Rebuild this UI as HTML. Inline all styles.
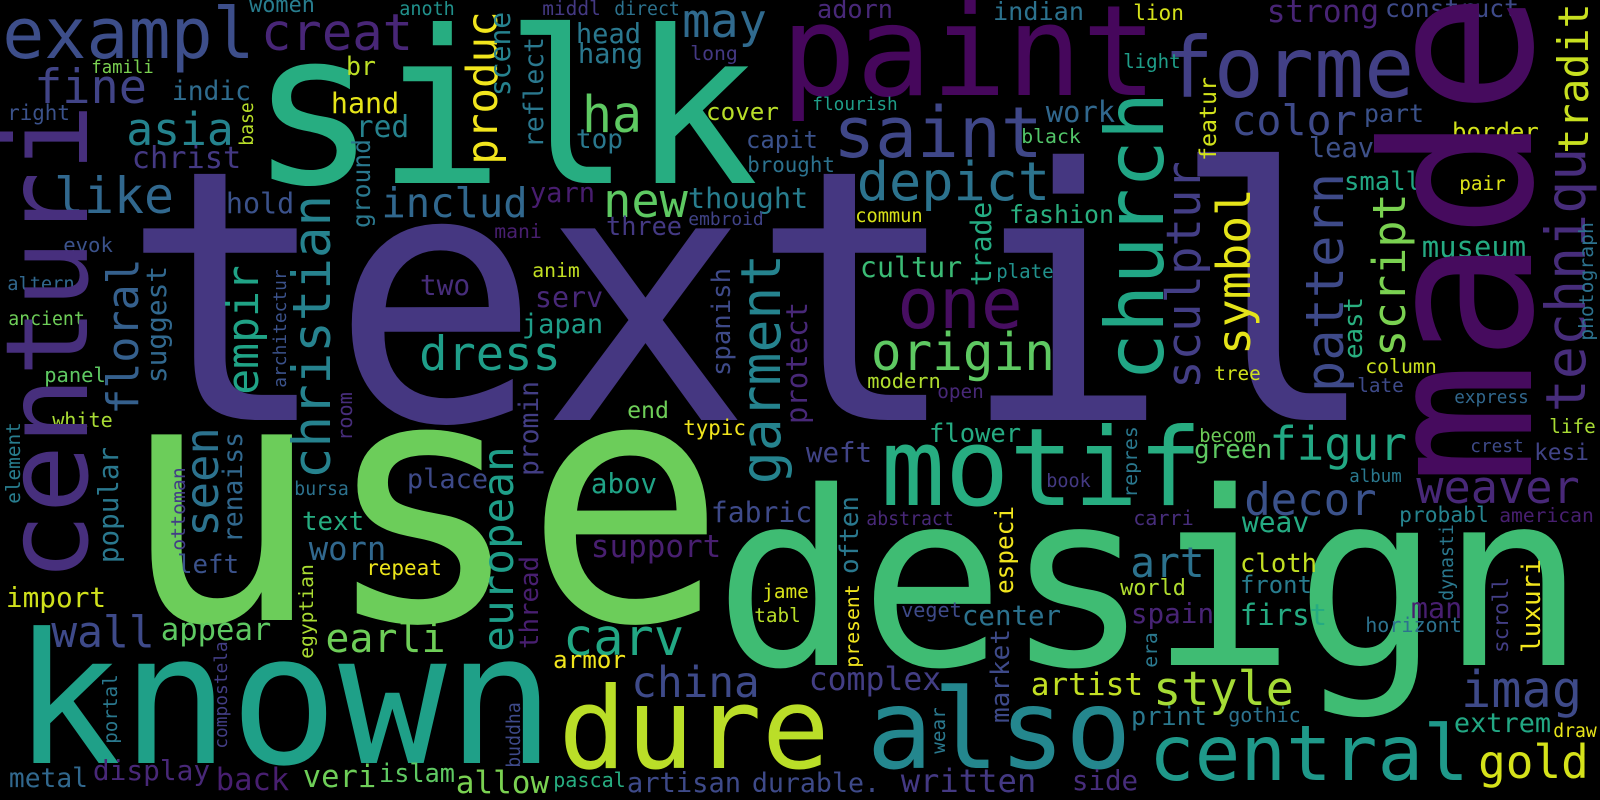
<!DOCTYPE html>
<html><head><meta charset="utf-8"><title>Word cloud</title>
<style>
html,body{margin:0;padding:0;background:#000;}
svg{display:block;}
text{font-family:"DejaVu Sans Mono","Liberation Mono",monospace;}
</style></head>
<body>
<svg id="cloud" width="1600" height="800" viewBox="0 0 1600 800" xmlns="http://www.w3.org/2000/svg">
<rect width="1600" height="800" fill="#000"/>
</svg>
<script>
// horizontal: [word, left x, baseline y, ink length, color]
const hWords = [
["textil",135,420,1231,"#453781"],
["use",133,620,580,"#6ccd5a"],
["design",724,665,852,"#3fbc73"],
["known",20,763,528,"#1fa088"],
["silk",258,183,492,"#27ad81"],
["paint",786,95,366,"#46075c"],
["forme",1167,97,244,"#424086"],
["exampl",5,58,247,"#3d4e8a"],
["creat",263,50,148,"#482677"],
["women",250,12,64,"#287d8e"],
["anoth",400,15,54,"#21918c"],
["middl",543,15,57,"#443983"],
["direct",615,15,64,"#2c728e"],
["may",684,37,81,"#306a8e"],
["head",577,43,63,"#2a788e"],
["hang",579,63,63,"#2a788e"],
["long",691,60,46,"#443983"],
["famili",92,73,61,"#7ad151"],
["fine",36,103,109,"#414487"],
["indic",173,100,77,"#2f6c8e"],
["br",347,75,28,"#bddf26"],
["hand",332,113,66,"#e5e419"],
["right",8,120,61,"#3b528b"],
["asia",128,145,104,"#25838e"],
["red",357,137,51,"#26828e"],
["ha",584,132,56,"#5ec962"],
["cover",707,120,71,"#b8de29"],
["capit",747,148,70,"#3b528b"],
["brought",748,172,86,"#2c728e"],
["top",577,148,45,"#2a788e"],
["christ",133,168,107,"#443983"],
["like",56,213,116,"#31688e"],
["includ",383,217,143,"#31688e"],
["hold",227,213,66,"#3b528b"],
["new",605,217,81,"#5ec962"],
["thought",689,208,118,"#287d8e"],
["yarn",531,202,63,"#481d6f"],
["three",607,235,74,"#443983"],
["embroid",689,225,74,"#404387"],
["mani",495,238,46,"#481f70"],
["evok",64,252,48,"#3b528b"],
["anim",533,277,46,"#c2df23"],
["two",421,295,48,"#472d7b"],
["altern",8,290,66,"#31688e"],
["serv",536,307,66,"#482878"],
["japan",523,333,79,"#1f9e89"],
["ancient",9,325,75,"#6ece58"],
["dress",421,370,138,"#1f9e89"],
["panel",45,382,60,"#5ec962"],
["adorn",818,18,74,"#482878"],
["indian",994,20,89,"#2c728e"],
["lion",1134,20,49,"#d5e21a"],
["strong",1268,22,110,"#482475"],
["construct",1386,17,132,"#3e4a89"],
["light",1124,68,56,"#1f9e89"],
["flourish",813,110,84,"#1f9e89"],
["saint",836,157,204,"#3f4788"],
["work",1047,122,67,"#31688e"],
["black",1022,143,58,"#52c569"],
["color",1233,135,122,"#3e4a89"],
["part",1365,122,58,"#3b528b"],
["leav",1310,157,63,"#3e5189"],
["border",1453,140,85,"#d2e21b"],
["depict",859,200,189,"#2c738e"],
["small",1345,190,75,"#22a884"],
["pair",1460,190,45,"#dde318"],
["commun",856,222,66,"#d8e219"],
["fashion",1010,223,103,"#29af7f"],
["museum",1423,257,102,"#25ab82"],
["cultur",861,277,100,"#3bbb75"],
["plate",997,278,56,"#21918c"],
["one",900,328,120,"#470e61"],
["origin",873,370,180,"#5ec962"],
["modern",868,388,72,"#b0dd2f"],
["open",938,398,45,"#482878"],
["tree",1215,380,45,"#d0e11c"],
["column",1366,373,70,"#cae11f"],
["late",1358,392,45,"#3e4a89"],
["express",1455,403,73,"#31688e"],
["life",1550,433,45,"#a8db34"],
["crest",1471,452,52,"#3e4a89"],
["kesi",1535,460,53,"#414487"],
["figur",1271,460,134,"#22a884"],
["becom",1200,442,55,"#6ece58"],
["green",1195,458,76,"#5ec962"],
["album",1350,482,51,"#2a788e"],
["decor",1246,515,129,"#3b528b"],
["weaver",1418,503,160,"#482878"],
["weav",1243,532,65,"#25ab82"],
["probabl",1400,522,88,"#25838e"],
["american",1500,522,93,"#481f70"],
["cloth",1241,572,75,"#c2df23"],
["front",1241,593,70,"#287c8e"],
["white",53,427,59,"#a8db34"],
["end",628,418,40,"#6ece58"],
["typic",684,435,61,"#f1e51d"],
["place",408,488,79,"#3e4a89"],
["abov",592,493,64,"#20a386"],
["bursa",295,495,53,"#2c728e"],
["text",303,530,60,"#26ad81"],
["fabric",712,522,99,"#3e4a89"],
["support",592,557,128,"#481f70"],
["worn",310,560,75,"#31688e"],
["left",178,573,60,"#3b528b"],
["repeat",367,575,74,"#ece51b"],
["import",7,607,98,"#d0e11c"],
["jame",763,598,45,"#d8e219"],
["tabl",755,622,45,"#b8de29"],
["wall",53,647,100,"#3e4a89"],
["appear",162,640,108,"#5ec962"],
["earli",327,652,117,"#6ece58"],
["carv",565,655,117,"#22a884"],
["armor",554,668,71,"#f1e51d"],
["china",633,697,125,"#3e4a89"],
["dure",563,768,262,"#bade28"],
["metal",10,787,77,"#31688e"],
["display",94,780,115,"#482878"],
["back",217,790,71,"#481f70"],
["veri",304,787,71,"#6ece58"],
["islam",380,782,74,"#5ec962"],
["allow",457,793,91,"#7ad151"],
["pascal",554,787,71,"#27ad81"],
["artisan",628,792,112,"#3e4a89"],
["durable.",753,792,126,"#3e4a89"],
["weft",807,462,64,"#414487"],
["flower",930,442,90,"#25ab82"],
["motif",885,505,313,"#27ad81"],
["book",1047,487,43,"#443983"],
["abstract",867,525,86,"#482878"],
["carri",1134,525,59,"#472d7b"],
["art",1132,577,71,"#2c728e"],
["world",1121,595,64,"#b0dd2f"],
["veget",902,617,59,"#3e4a89"],
["center",963,625,97,"#2c728e"],
["spain",1132,623,81,"#482475"],
["first",1241,625,85,"#25ab82"],
["man",1412,618,49,"#481f70"],
["horizont",1366,632,95,"#2c728e"],
["complex",810,690,130,"#433e85"],
["artist",1032,695,110,"#c2df23"],
["style",1155,705,137,"#a5db36"],
["imag",1463,707,117,"#3e4a89"],
["print",1132,725,74,"#2a788e"],
["gothic",1229,722,71,"#2c728e"],
["extrem",1455,732,95,"#22a884"],
["draw",1554,737,42,"#e7e419"],
["also",871,768,256,"#24878e"],
["central",1152,780,314,"#1f998a"],
["gold",1480,778,107,"#d5e21a"],
["written",902,792,133,"#443983"],
["side",1073,790,64,"#472d7b"]
];
// vertical (reads bottom-to-top): [word, baseline x, bottom y, ink length, color]
const vWords = [
["made",1531,477,477,"#460b5e"],
["centuri",87,577,469,"#472f7d"],
["church",1163,378,283,"#21a685"],
["christian",330,477,280,"#26828e"],
["floral",138,413,153,"#35608d"],
["suggest",166,382,115,"#31688e"],
["empir",258,393,126,"#20a386"],
["architectur",286,387,117,"#3b528b"],
["spanish",730,375,106,"#3e4a89"],
["garment",780,482,226,"#25838e"],
["protect",807,423,120,"#482878"],
["produc",497,163,150,"#f1e51d"],
["scene",510,95,82,"#26828e"],
["reflect",543,147,109,"#2a788e"],
["base",253,145,42,"#b8de29"],
["ground",370,227,87,"#2a788e"],
["trade",991,285,82,"#25ab82"],
["featur",1216,160,82,"#d2e21b"],
["sculptur",1200,387,224,"#433e85"],
["symbol",1250,353,163,"#e5e419"],
["pattern",1343,390,215,"#3e4a89"],
["script",1405,355,160,"#7ad151"],
["east",1362,358,60,"#29af7f"],
["tradit",1588,152,147,"#c8e020"],
["techniqu",1585,410,260,"#472d7b"],
["photograph",1593,340,117,"#2c728e"],
["seen",218,535,106,"#2c728e"],
["popular",118,562,114,"#2a788e"],
["element",20,503,80,"#287d8e"],
["ottoman",185,550,82,"#433e85"],
["renaiss",242,542,109,"#31688e"],
["room",352,440,47,"#472d7b"],
["promin",538,475,93,"#433e85"],
["european",513,650,202,"#1f9e89"],
["thread",538,648,91,"#481f70"],
["egyptian",313,658,93,"#aadc32"],
["compostela",227,748,106,"#433e85"],
["portal",117,743,68,"#2a788e"],
["buddha",520,767,64,"#3e4a89"],
["often",858,573,76,"#2a788e"],
["present",859,667,82,"#f1e51d"],
["especi",1013,593,86,"#f1e51d"],
["market",1009,722,92,"#3e4a89"],
["repres",1137,497,70,"#2a788e"],
["era",1157,667,34,"#2a788e"],
["wear",945,753,45,"#2a788e"],
["dynasti",1453,600,75,"#2a788e"],
["scroll",1508,652,74,"#433e85"],
["luxuri",1540,652,92,"#f1e51d"]
];

const svg = document.getElementById('cloud');
const NS = 'http://www.w3.org/2000/svg';
function fontSize(w, len){ return len / (0.602 * w.length - 0.1); }
function place(entry, vertical){
  const [w, x, y, len, color] = entry;
  const t = document.createElementNS(NS, 'text');
  
  
  const fs = fontSize(w, len);
  t.setAttribute('font-size', fs.toFixed(1));
  t.setAttribute('fill', color);
  t.setAttribute('textLength', (len + fs * 0.08).toFixed(1));
  t.setAttribute('lengthAdjust', 'spacingAndGlyphs');
  const off = -fs * 0.04;
  if (vertical) {
    t.setAttribute('transform', 'translate(' + x + ',' + (y - off) + ') rotate(-90)');
    t.setAttribute('x', 0); t.setAttribute('y', 0);
  } else {
    t.setAttribute('x', (x + off).toFixed(1));
    t.setAttribute('y', y);
  }
  t.textContent = w;
  svg.appendChild(t);
}
hWords.forEach(e => place(e, false));
vWords.forEach(e => place(e, true));
</script>
</body></html>
